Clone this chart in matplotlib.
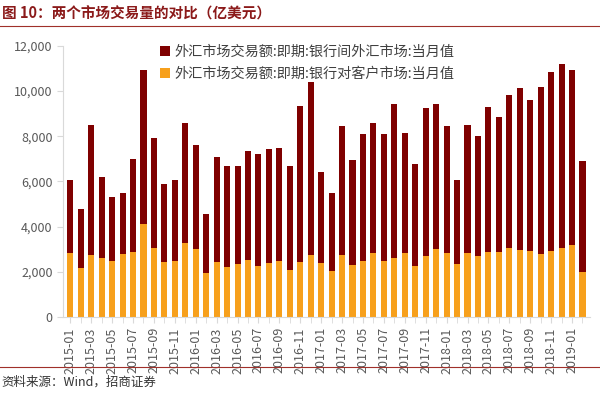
import matplotlib
matplotlib.use("Agg")
from matplotlib import pyplot as plt
import numpy as np

plt.rcParams['font.family'] = ['Noto Sans CJK SC', 'DejaVu Sans']

# 月份 2015-01 .. 2019-02
months = [f"{y}-{m:02d}" for y in range(2015, 2020) for m in range(1, 13)][:50]

# 银行对客户市场 (亿美元)
customer = [2830, 2163, 2726, 2607, 2459, 2800, 2860, 4104, 3052, 2415,
            2489, 3289, 3022, 1956, 2430, 2222, 2356, 2519, 2267, 2370,
            2474, 2089, 2430, 2755, 2400, 2044, 2740, 2296, 2489, 2844,
            2474, 2593, 2830, 2252, 2696, 2993, 2844, 2326, 2815, 2696,
            2889, 2860, 3037, 2963, 2918, 2785, 2918, 3037, 3185, 1970]

# 两市场合计 (亿美元)
total = [6075, 4755, 8518, 6177, 5303, 5481, 6993, 10933, 7911, 5881,
         6059, 8607, 7600, 4548, 7081, 6681, 6696, 7348, 7215, 7422,
         7481, 6681, 9333, 10400, 6400, 5496, 8474, 6933, 8089, 8607,
         8104, 9422, 8133, 6785, 9230, 9407, 8459, 6044, 8504, 8030,
         9274, 8844, 9807, 10119, 9585, 10178, 10859, 11200, 10933, 6918]

interbank = [t - c for t, c in zip(total, customer)]

label_ib = "外汇市场交易额:即期:银行间外汇市场:当月值"
label_cu = "外汇市场交易额:即期:银行对客户市场:当月值"

dark_red = '#7F0000'
orange = '#F7A01C'
grey = '#595959'

fig = plt.figure(figsize=(6, 3.96), dpi=100)
ax = fig.add_axes([0.105, 0.2, 0.878, 0.684])

x = np.arange(len(months))
ax.bar(x, interbank, bottom=customer, width=0.58, color=dark_red, label=label_ib)
ax.bar(x, customer, width=0.58, color=orange, label=label_cu)

ax.set_ylim(0, 12000)
ax.set_yticks(range(0, 12001, 2000))
ax.set_yticklabels([f"{v:,}" for v in range(0, 12001, 2000)])
ax.set_xlim(-0.7, len(months) - 0.3)
ax.set_xticks(x[::2])
ax.set_xticklabels(months[::2], rotation=90)
ax.set_xticks(x, minor=True)

for s in ['top', 'right']:
    ax.spines[s].set_visible(False)
for s in ['left', 'bottom']:
    ax.spines[s].set_color('#D9D9D9')
ax.tick_params(axis='both', colors='#D9D9D9', labelcolor=grey, labelsize=9, length=4)
ax.tick_params(axis='x', which='minor', colors='#D9D9D9', length=4)

ax.legend(loc='upper left', bbox_to_anchor=(0.16, 1.05), frameon=False,
          fontsize=10.2, handlelength=0.7, handleheight=0.7, handletextpad=0.3,
          labelspacing=0.55, labelcolor='#404040')

# 标题和来源
fig.text(0.003, 0.965, "图 10：两个市场交易量的对比（亿美元）", fontsize=10.5,
         fontweight='bold', color='#8B1A1A', va='center')
fig.add_artist(plt.Line2D([0, 1], [0.934, 0.934], color='#A0302A', lw=0.8))
fig.add_artist(plt.Line2D([0, 1], [0.072, 0.072], color='#A0302A', lw=0.8))
fig.text(0.003, 0.035, "资料来源：Wind，招商证券", fontsize=9, color='#333333', va='center')

fig.savefig('out.png', dpi=100)
